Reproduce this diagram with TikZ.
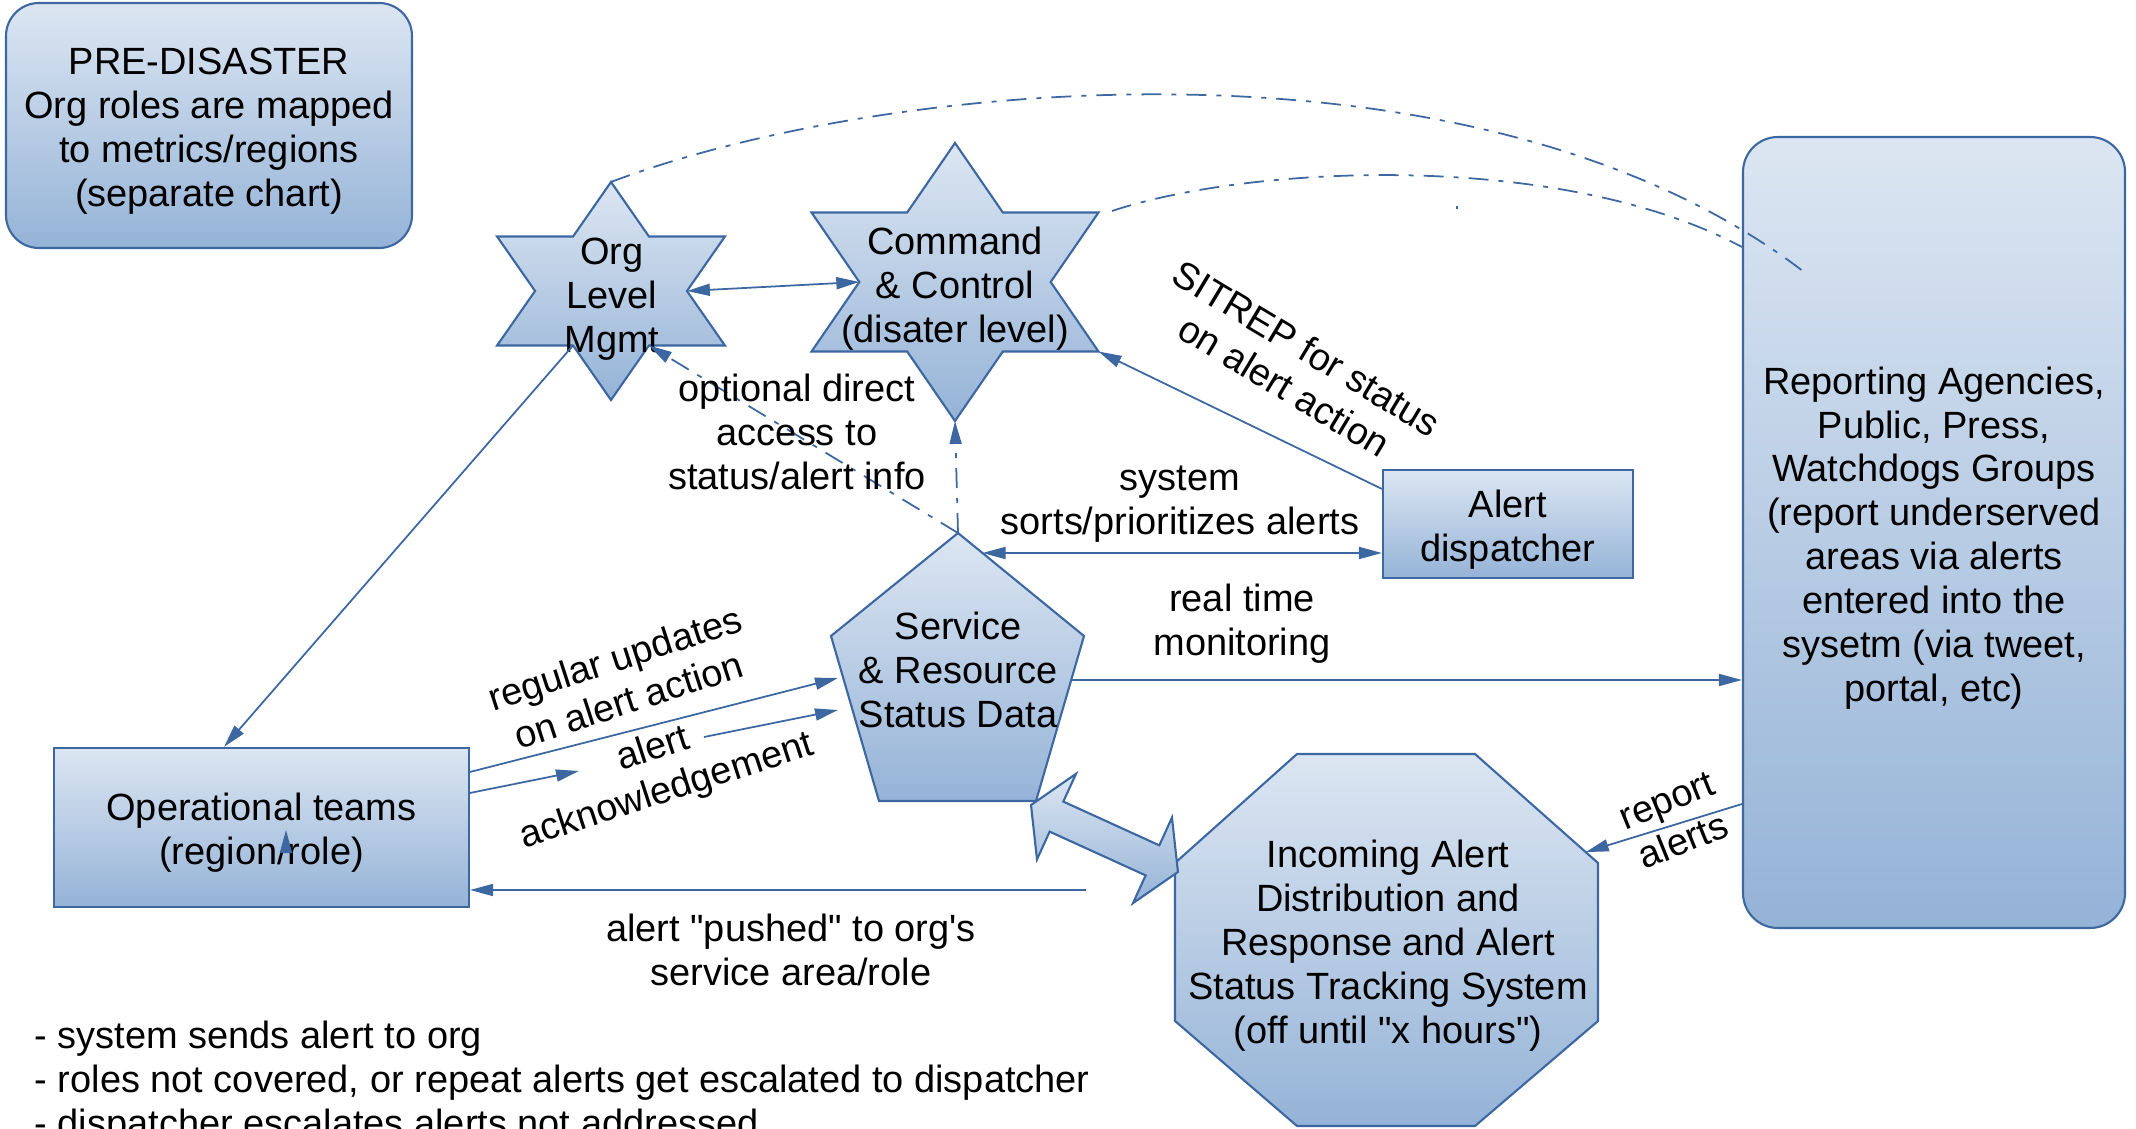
\documentclass[tikz,border=0pt]{standalone}
\usepackage{fontspec}
\setmainfont{Liberation Sans}
\usetikzlibrary{arrows.meta}

\definecolor{boxtop}{HTML}{DCE6F2}
\definecolor{boxbot}{HTML}{95B3D7}
\definecolor{lineblue}{HTML}{3C67A0}

\newcommand{\topgap}{\rule{0pt}{11pt}}

\begin{document}
\begin{tikzpicture}[>={Triangle[length=2.3mm,width=1.2mm]},
	bluebox/.style={draw=lineblue, line width=0.6pt, top color=boxtop, bottom color=boxbot},
	link/.style={draw=lineblue, line width=0.5pt},
	dashlink/.style={link, dash pattern=on 2mm off 1mm on 0.5mm off 1mm},
	txt/.style={align=center, inner sep=0pt, font=\fontsize{10.8}{12.5}\selectfont}]

	\useasboundingbox (0,0) rectangle (21.36,11.28);
	\clip (0,0) rectangle (21.36,11.28);

	\node[bluebox, txt, rounded corners=3.3mm, minimum width=4.06cm, minimum height=2.45cm] (pre) at (2.09,10.025) {\topgap PRE-DISASTER\\Org roles are mapped\\to metrics/regions\\(separate chart)};
	\node[bluebox, txt, minimum width=4.15cm, minimum height=1.59cm] (ops) at (2.615,3.005) {\topgap Operational teams\\(region/role)};
	\node[bluebox, txt, minimum width=2.5cm, minimum height=1.08cm] (disp) at (15.08,6.04) {\topgap Alert\\dispatcher};
	\node[bluebox, txt, rounded corners=3.5mm, minimum width=3.82cm, minimum height=7.91cm] (rep) at (19.34,5.955) {\topgap Reporting Agencies,\\Public, Press,\\Watchdogs Groups\\(report underserved\\areas via alerts\\entered into the\\sysetm (via tweet,\\portal, etc)};

	\begin{scope}[shift={(6.11,8.37)}, xscale=1.207]
		\path[bluebox] (90:1.09) \foreach \k in {0,...,5} { -- ({120+60*\k}:0.629) -- ({150+60*\k}:1.09)} -- cycle;
		\coordinate (org-n) at (90:1.09);
		\coordinate (org-e) at (0:0.629);
		\coordinate (org-sw) at (240:0.629);
		\coordinate (org-se) at (300:0.629);
	\end{scope}
	\begin{scope}[shift={(9.55,8.46)}, xscale=1.192]
		\path[bluebox] (90:1.39) \foreach \k in {0,...,5} { -- ({120+60*\k}:0.8025) -- ({150+60*\k}:1.39)} -- cycle;
		\coordinate (cmd-w) at (180:0.8025);
		\coordinate (cmd-s) at (270:1.39);
		\coordinate (cmd-se) at (330:1.39);
	\end{scope}
	\node[txt] (org) at (6.12,8.29) {Org\\Level\\Mgmt};
	\node[txt] (cmd) at (9.55,8.39) {Command\\\& Control\\(disater level)};

	\path[bluebox] (9.58,5.95) -- (10.84,4.92) -- (10.36,3.27) -- (8.79,3.27) -- (8.31,4.92) -- cycle;
	\node[txt] (srv) at (9.58,4.58) {Service\\\& Resource\\Status Data};

	\path[bluebox] (12.97,3.74) -- (14.75,3.74) -- (15.98,2.65) -- (15.98,1.07) -- (14.75,0.02) -- (12.97,0.02) -- (11.75,1.07) -- (11.75,2.65) -- cycle;
	\node[txt] (inc) at (13.88,1.82) {Incoming Alert\\Distribution and\\Response and Alert\\Status Tracking System\\(off until \textquotedbl x hours\textquotedbl)};

	\begin{scope}[shift={(10.31,3.23)}, rotate=-24.5]
		\path[bluebox] (0,0) -- (0.28,0.47) -- (0.28,0.165) -- (1.335,0.165) -- (1.335,0.47) -- (1.615,0) -- (1.335,-0.47) -- (1.335,-0.165) -- (0.28,-0.165) -- (0.28,-0.47) -- cycle;
	\end{scope}

	\coordinate (srv-n) at (9.58,5.95);
	\coordinate (srv-ne) at (9.825,5.75);
	\coordinate (srv-e) at (10.712,4.48);
	\coordinate (srv-w1) at (8.38,4.50);
	\coordinate (srv-w2) at (8.38,4.18);
	\coordinate (ack-a) at (5.79,3.57);
	\coordinate (ack-b) at (7.04,3.91);
	\coordinate (inc-ne) at (15.857,2.759);
	\coordinate (push) at (10.86,2.38);
	\coordinate (cmd-ne) at (11.12,9.17);
	\coordinate (rep-in) at (18.08,8.53);

	\draw[link, <->] (org-e) -- (cmd-w);
	\draw[link, ->] (org-sw) -- ([xshift=-3.75mm]ops.north);
	\draw[dashlink, ->] (srv-n) -- (org-se);
	\draw[dashlink, ->] (srv-n) -- (cmd-s);
	\draw[link, <->] (srv-ne) -- (srv-ne -| disp.west);
	\draw[link, ->] ([yshift=-2mm]disp.north west) -- (cmd-se);
	\draw[link, ->] (srv-e) -- (srv-e -| rep.west);
	\draw[link, ->] ([yshift=-27.15mm]rep.west) -- (inc-ne);
	\draw[link, ->] (push) -- (push -| ops.east);
	\draw[link, ->] ([yshift=-2.5mm]ops.north east) -- (srv-w1);
	\draw[link, ->] ([yshift=-4.6mm]ops.north east) -- (ack-a);
	\draw[link, ->] (ack-b) -- (srv-w2);
	\draw[dashlink] (org-n) .. controls (8.80,10.48) and (14.80,11.08) .. (rep-in);
	\draw[dashlink] (cmd-ne) .. controls (12.50,9.63) and (15.60,9.78) .. ([yshift=28.55mm]rep.west);
	\draw[link] (14.57,9.22) -- (14.57,9.19);
	\draw[link, ->] (2.86,2.76) -- (2.86,2.98);

	\node[txt] (optional) at (7.97,6.96) {optional direct\\access to\\status/alert info};
	\node[txt, rotate=-31] (sitrep) at (12.955,7.61) {SITREP for status\\on alert action};
	\node[txt] (sorts) at (11.80,6.24) {system\\sorts/prioritizes alerts};
	\node[txt] (realtime) at (12.42,5.04) {real time\\monitoring};
	\node[txt, rotate=18] (updates) at (6.215,4.49) {regular updates\\on alert action};
	\node[txt, rotate=18] (ack) at (6.60,3.57) {alert\\acknowledgement};
	\node[txt] (pushed) at (7.91,1.785) {alert \textquotedbl pushed\textquotedbl{} to org\textquotesingle s\\service area/role};
	\node[txt, rotate=22] (report) at (16.75,3.07) {report\\alerts};
	\node[txt, align=left, anchor=west] (notes) at (0.34,0.45) {- system sends alert to org\\- roles not covered, or repeat alerts get escalated to dispatcher\\- dispatcher escalates alerts not addressed};

\end{tikzpicture}
\end{document}
